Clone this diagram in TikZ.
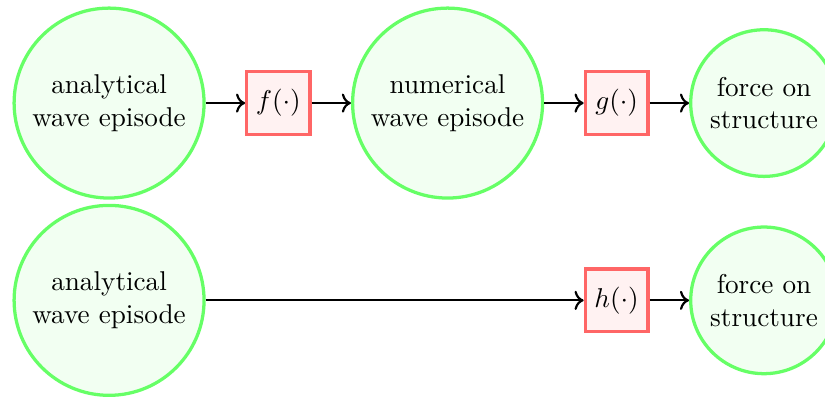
\documentclass[tikz,border=0pt]{standalone}
\usepackage{tikz}
\usetikzlibrary{arrows.meta, positioning, calc}

\begin{document}
\begin{tikzpicture}[
  node distance=5.1mm and 5.1mm,
  roundnode/.style={circle, draw=green!60, fill=green!5, very thick, align=center, inner sep=3.7pt},
  squarednode/.style={rectangle, draw=red!60, fill=red!5, very thick, minimum size=8.1mm},
  >={To[]}]
\useasboundingbox (-40.1pt,-108.1pt) rectangle (263.2pt,37.9pt);
% upper row
\node[roundnode] (ana1) at (0,0) {analytical\\ wave episode};
\node[squarednode, right=of ana1] (f) {$f(\cdot)$};
\node[roundnode, right=of f] (num) {numerical\\ wave episode};
\node[squarednode, right=of num] (g) {$g(\cdot)$};
\node[roundnode, right=of g] (force1) {force on\\ structure};
% lower row
\node[roundnode, below=1.5pt of ana1] (ana2) {analytical\\ wave episode};
\node[squarednode] (h) at (g |- ana2) {$h(\cdot)$};
\node[roundnode, right=of h] (force2) {force on\\ structure};
\draw[->, thick] (ana1) -- (f);
\draw[->, thick] (f) -- (num);
\draw[->, thick] (num) -- (g);
\draw[->, thick] (g) -- (force1);
\draw[->, thick] (ana2) -- (h);
\draw[->, thick] (h) -- (force2);
\end{tikzpicture}
\end{document}
